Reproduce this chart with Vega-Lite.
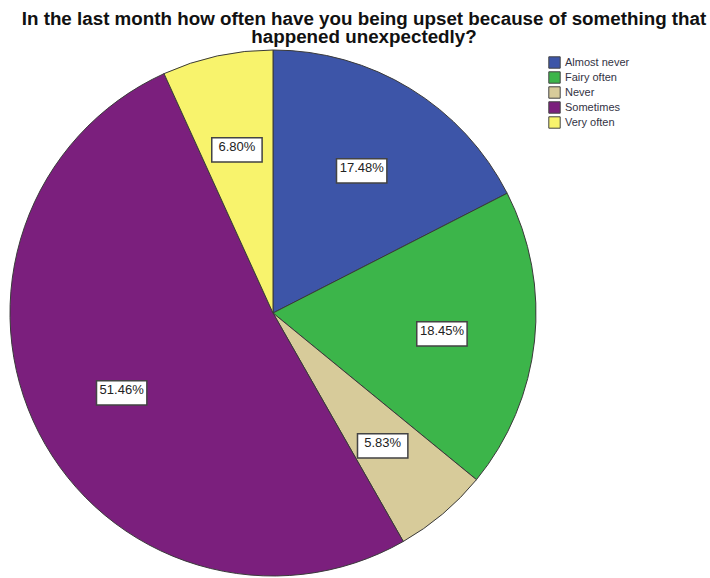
{
  "$schema": "https://vega.github.io/schema/vega-lite/v6.json",
  "autosize": {"type": "none"},
  "width": 546,
  "height": 526,
  "padding": {"left": 0, "top": 50, "right": 164, "bottom": 2},
  "background": "white",
  "title": {
    "text": ["In the last month how often have you being upset because of something that", "happened unexpectedly?"],
    "anchor": "middle",
    "dx": 91,
    "offset": 1,
    "font": "Liberation Sans",
    "fontSize": 18.8,
    "fontWeight": "bold",
    "lineHeight": 18,
    "color": "#111111"
  },
  "data": {
    "values": [
      {"category": "Almost never", "share": 0.1748},
      {"category": "Fairy often", "share": 0.1845},
      {"category": "Never", "share": 0.0583},
      {"category": "Sometimes", "share": 0.5146},
      {"category": "Very often", "share": 0.068}
    ]
  },
  "encoding": {
    "theta": {"field": "share", "type": "quantitative", "stack": true},
    "order": {"field": "category", "type": "nominal", "sort": "ascending"}
  },
  "layer": [
    {
      "mark": {"type": "arc", "outerRadius": 263, "stroke": "#3a3a3a", "strokeWidth": 1},
      "encoding": {
        "color": {
          "field": "category",
          "type": "nominal",
          "scale": {
            "domain": ["Almost never", "Fairy often", "Never", "Sometimes", "Very often"],
            "range": ["#3d55a8", "#3cb54a", "#d7cb9a", "#7b1f7d", "#f8f36c"]
          },
          "legend": {
            "title": null,
            "orient": "none",
            "legendX": 548,
            "legendY": 5,
            "symbolType": "square",
            "symbolSize": 130,
            "symbolStrokeColor": "#444444",
            "symbolStrokeWidth": 1,
            "symbolOpacity": 1,
            "labelFont": "Liberation Sans",
            "labelFontSize": 11,
            "labelColor": "#333344",
            "labelOffset": 4,
            "rowPadding": 0,
            "clipHeight": 15
          }
        }
      }
    },
    {
      "mark": {"type": "text", "text": "▬", "radius": 170, "font": "DejaVu Sans", "fontSize": 66, "fill": "#ffffff", "stroke": "#444444", "strokeWidth": 1.5, "baseline": "middle"}
    },
    {
      "mark": {"type": "text", "radius": 170, "font": "Liberation Sans", "fontSize": 13, "fill": "#222222"},
      "encoding": {
        "text": {"field": "share", "type": "quantitative", "format": ".2%"}
      }
    }
  ]
}
